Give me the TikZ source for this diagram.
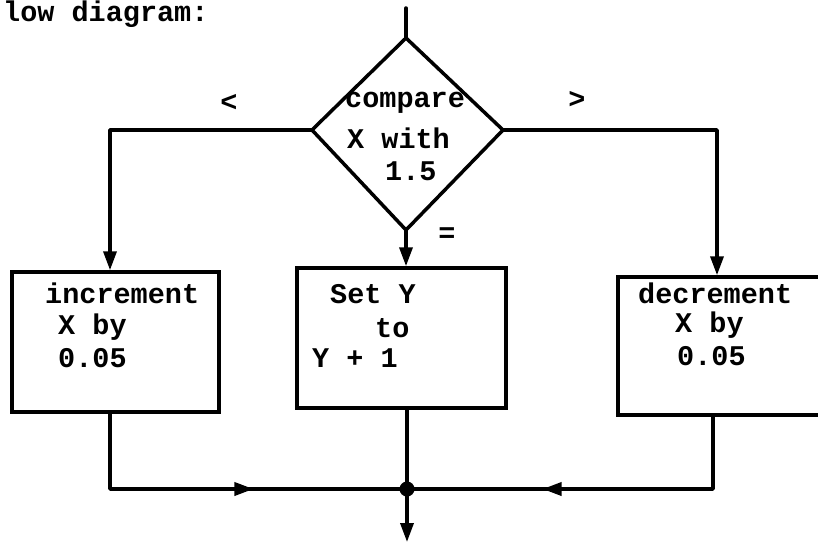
\documentclass[tikz,border=0pt]{standalone}
\usepackage{fontspec}
\setmonofont{Liberation Mono}
\usetikzlibrary{arrows.meta,decorations.markings}
\begin{document}
\begin{tikzpicture}[x=1pt,y=-1pt,
  tw/.style={font=\ttfamily\bfseries\fontsize{28.5}{32}\selectfont},
  txt/.style={tw, inner sep=0pt, anchor=base west},
  sym/.style={tw, inner sep=0pt},
  stepbox/.style={draw, line width=3.5pt, minimum width=#1, minimum height=140pt},
  flow/.style={line width=3.5pt, line cap=round, line join=round},
  arr/.style={flow, -{Triangle[length=19pt,width=13pt]}},
  midarrow/.style={postaction={decorate, decoration={markings,
      mark=at position #1 with {\arrow{Triangle[length=19pt,width=13pt]}}}}}
]
\useasboundingbox (0,0) rectangle (818,543);
\clip (0,0) rectangle (818,543);

% heading
\node[txt] (head) at (3,22) {low diagram:};

% decision
\coordinate (in) at (406,8);
\coordinate (dT) at (406,38);
\coordinate (dR) at (503,130);
\coordinate (dB) at (406,230);
\coordinate (dL) at (312,130);
\draw[flow] (dT) -- (dR) -- (dB) -- (dL) -- cycle;
\node[txt] (c1) at (345,107) {compare};
\node[txt] (c2) at (347,148) {X with};
\node[txt] (c3) at (385,180) {1.5};

% branch labels
\node[sym] (lt) at (229,103) {<};
\node[sym] (gt) at (577,100) {>};
\node[sym] (eq) at (447,235) {=};

% process boxes
\node[stepbox=207pt] (inc) at (115.5,342) {};
\node[stepbox=209pt] (set) at (401.5,338) {};
\node[stepbox=222pt, minimum height=138pt] (dec) at (729,346) {};

\node[txt] (i1) at (45,303) {increment};
\node[txt] (i2) at (58,334) {X by};
\node[txt] (i3) at (58,367) {0.05};

\node[txt] (s1) at (330,303) {Set Y};
\node[txt] (s2) at (375,337) {to};
\node[txt] (s3) at (312,367) {Y + 1};

\node[txt] (d1) at (638,303) {decrement};
\node[txt] (d2) at (675,332) {X by};
\node[txt] (d3) at (677,365) {0.05};

% junction and exit
\node[circle, fill, inner sep=0pt, minimum size=15pt] (jn) at (407,489) {};
\coordinate (out) at (407,542);

% connectors
\draw[flow] (in) -- (dT);
\draw[arr] (dL) -| ([xshift=-5.5pt]inc.north);
\draw[arr] (dB) -- (dB |- set.north);
\draw[arr] (dR) -| ([xshift=-12pt]dec.north);

\draw[flow, midarrow=0.6] ([xshift=-5.5pt]inc.south) |- (jn);
\draw[flow, midarrow=0.655] ([xshift=-16pt]dec.south) |- (jn);
\draw[flow] (jn |- set.south) -- (jn);
\draw[arr] (jn) -- (out);
\end{tikzpicture}
\end{document}
